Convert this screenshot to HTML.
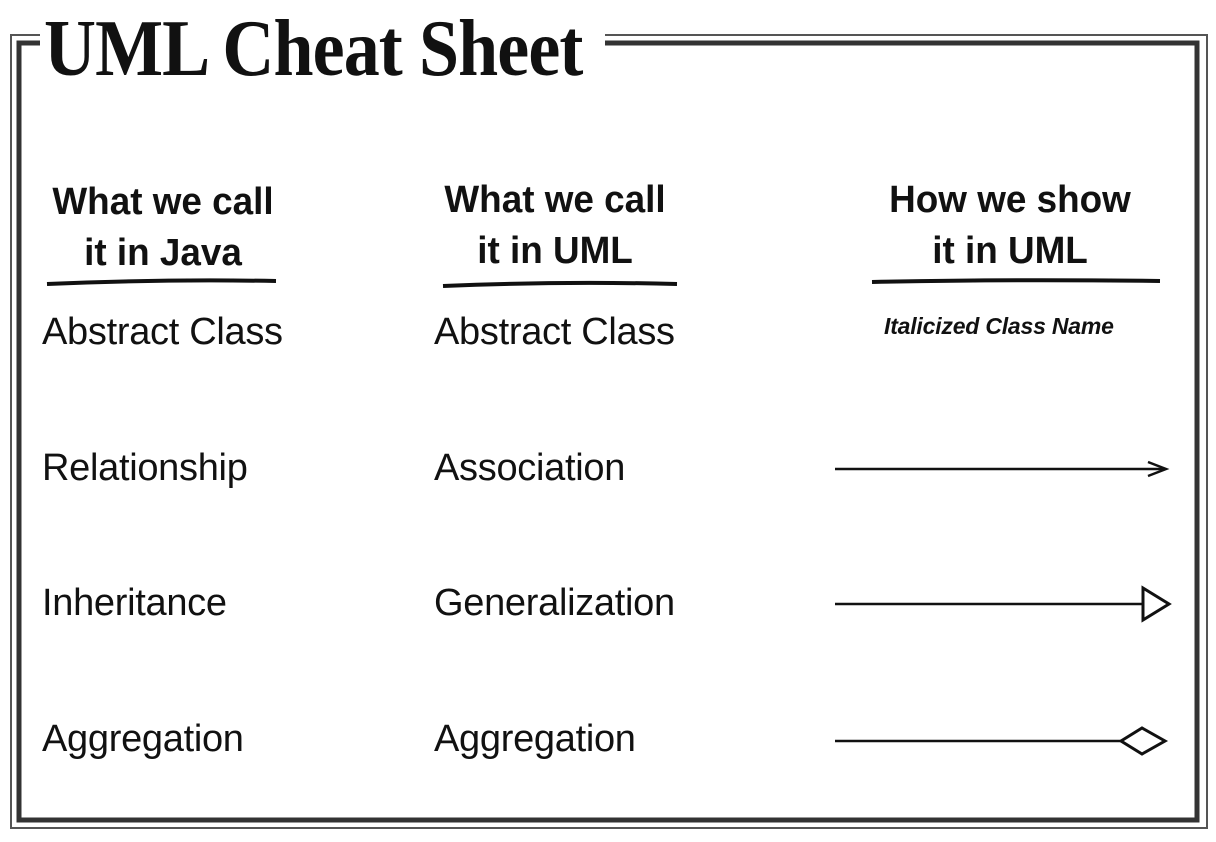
<!DOCTYPE html>
<html><head><meta charset="utf-8"><style>
body{margin:0;width:1216px;height:842px;background:#fff;position:relative;overflow:hidden;font-family:"Liberation Sans",sans-serif;color:#111}
.t{position:absolute;white-space:nowrap}
.b{font-size:38px;letter-spacing:-0.3px}
.h{font-weight:bold;font-size:38px;text-align:center;line-height:51px;transform:scaleX(0.97)}
</style></head><body>
<svg width="1216" height="842" style="position:absolute;left:0;top:0">
<g fill="none">
<polyline points="40,35 11,35 11,828 1207,828 1207,35 605,35" stroke="#555" stroke-width="2"/>
<polyline points="40,43 19,43 19,820 1197,820 1197,43 605,43" stroke="#333" stroke-width="5"/>
<path d="M47,284 Q160,279 276,281" stroke="#111" stroke-width="4"/>
<path d="M443,286 Q560,281 677,284" stroke="#111" stroke-width="4"/>
<path d="M872,282 Q1010,279 1160,281" stroke="#111" stroke-width="4"/>
<g stroke="#111" stroke-width="2.5">
<line x1="835" y1="469" x2="1165" y2="469"/>
<polyline points="1148,462 1166,469 1148,476"/>
<line x1="835" y1="604" x2="1142" y2="604"/>
<polygon points="1143,588 1169,604 1143,620" stroke-width="3"/>
<line x1="835" y1="741" x2="1121" y2="741"/>
<polygon points="1121,741 1142,728 1165,741 1142,754" stroke-width="3"/>
</g></g></svg>
<div class="t" style="left:44px;top:4px;font-family:'Liberation Serif',serif;font-size:80px;font-weight:bold;letter-spacing:-1px;transform:scaleX(0.9);transform-origin:left">UML Cheat Sheet</div>
<div class="t h" style="left:13px;top:177px;width:300px">What we call<br>it in Java</div>
<div class="t h" style="left:405px;top:175px;width:300px">What we call<br>it in UML</div>
<div class="t h" style="left:860px;top:175px;width:300px">How we show<br>it in UML</div>
<div class="t b" style="left:42px;top:311px">Abstract Class</div>
<div class="t b" style="left:434px;top:311px">Abstract Class</div>
<div class="t" style="left:884px;top:313px;font-size:23px;font-weight:bold;font-style:italic;letter-spacing:-0.2px">Italicized Class Name</div>
<div class="t b" style="left:42px;top:447px">Relationship</div>
<div class="t b" style="left:434px;top:447px">Association</div>
<div class="t b" style="left:42px;top:582px">Inheritance</div>
<div class="t b" style="left:434px;top:582px">Generalization</div>
<div class="t b" style="left:42px;top:718px">Aggregation</div>
<div class="t b" style="left:434px;top:718px">Aggregation</div>
</body></html>
